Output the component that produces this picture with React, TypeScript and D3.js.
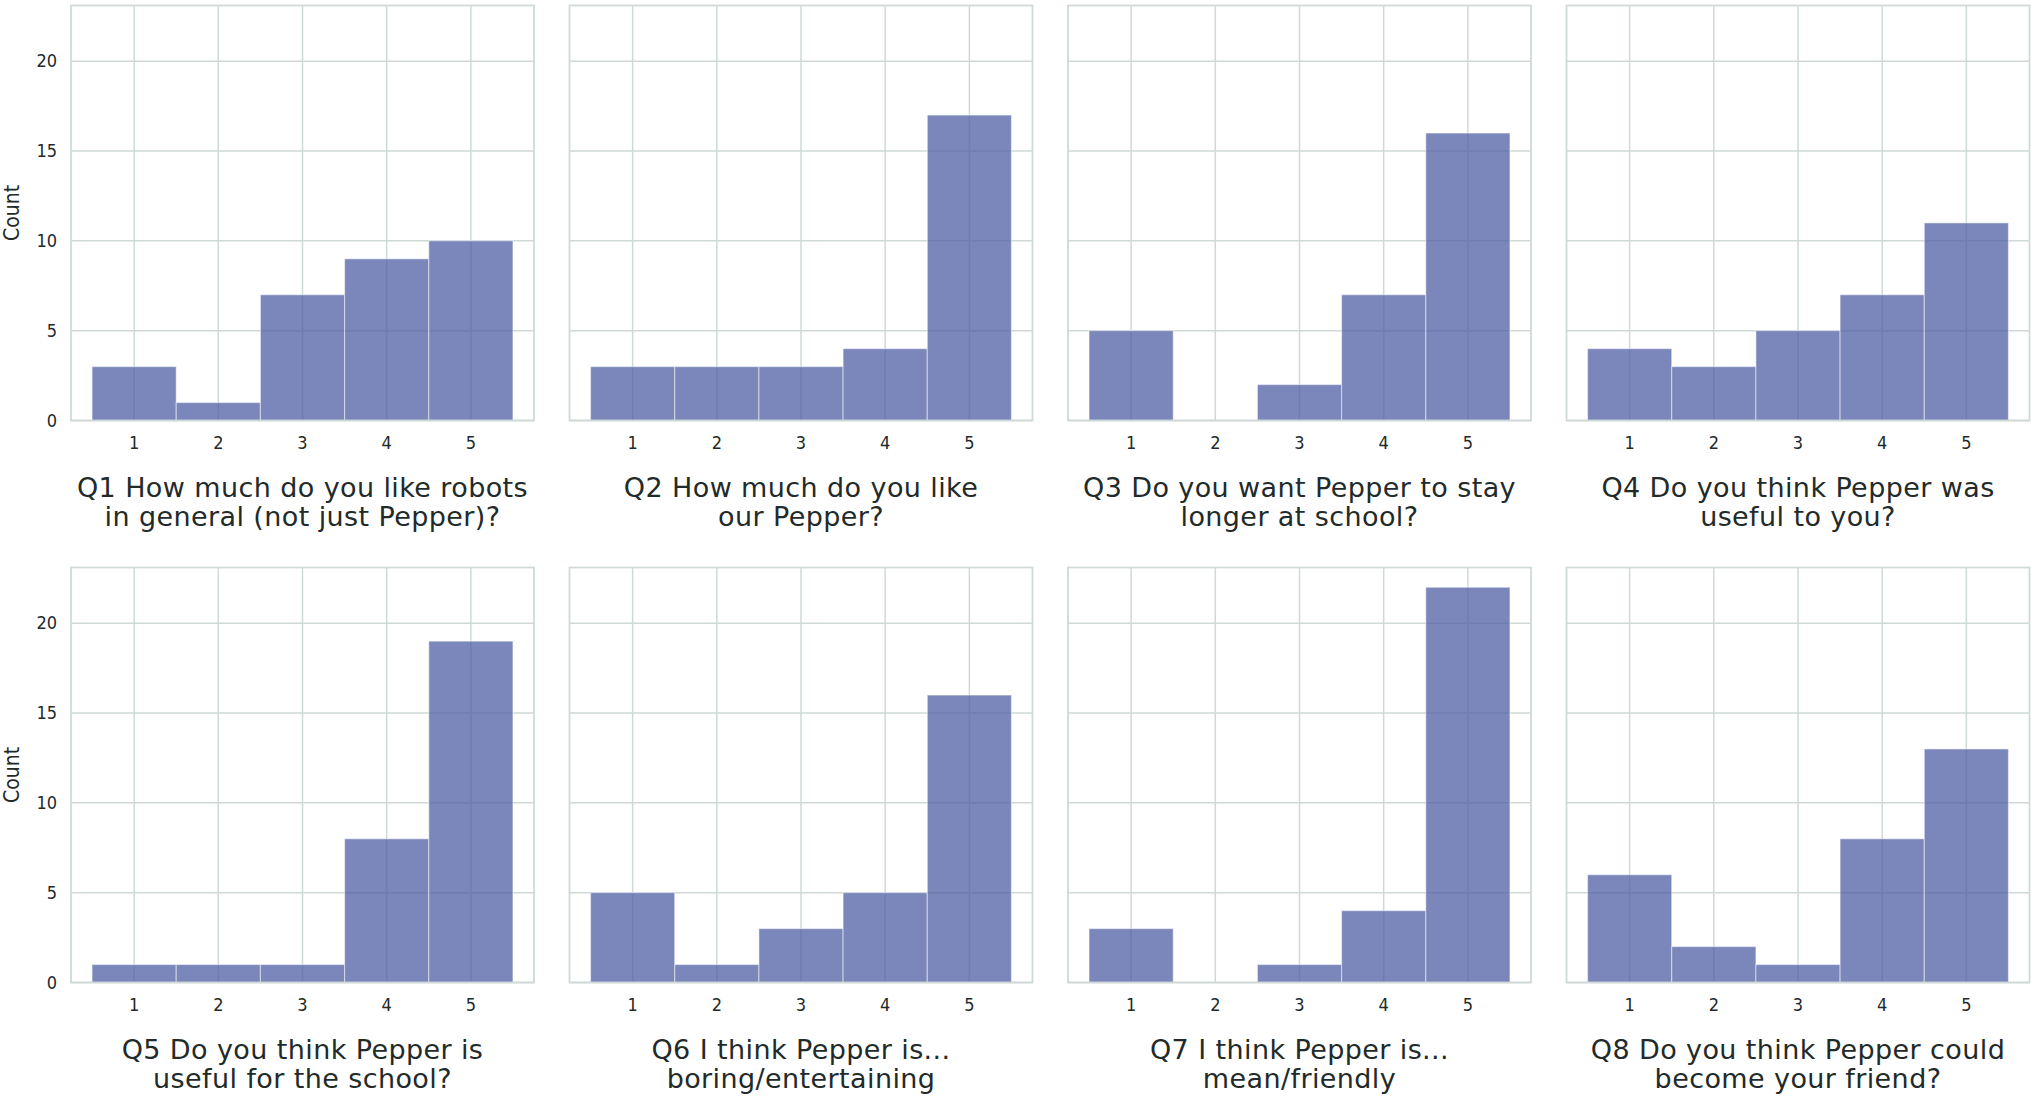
import React, { useEffect, useRef } from "react";
import * as d3 from "d3";

const ratings = [1, 2, 3, 4, 5];
const yTicks = [0, 5, 10, 15, 20];

const q1 = [3, 1, 7, 9, 10];
const q2 = [3, 3, 3, 4, 17];
const q3 = [5, 0, 2, 7, 16];
const q4 = [4, 3, 5, 7, 11];
const q5 = [1, 1, 1, 8, 19];
const q6 = [5, 1, 3, 5, 16];
const q7 = [3, 0, 1, 4, 22];
const q8 = [6, 2, 1, 8, 13];

const titles = [
  ["Q1 How much do you like robots", "in general (not just Pepper)?"],
  ["Q2 How much do you like", "our Pepper?"],
  ["Q3 Do you want Pepper to stay", "longer at school?"],
  ["Q4 Do you think Pepper was", "useful to you?"],
  ["Q5 Do you think Pepper is", "useful for the school?"],
  ["Q6 I think Pepper is...", "boring/entertaining"],
  ["Q7 I think Pepper is...", "mean/friendly"],
  ["Q8 Do you think Pepper could", "become your friend?"],
];

const counts = [q1, q2, q3, q4, q5, q6, q7, q8];

const WIDTH = 2031;
const HEIGHT = 1099;
const PANEL_W = 463;
const PANEL_H = 415;
const colLeft = [71, 569.5, 1068, 1566.5];
const rowTop = [5.5, 567.5];

const GRID = "#cfdad8";
const TEXT = "#222a2a";
const TICK_FONT = "'DejaVu Sans Condensed', 'DejaVu Sans', sans-serif";

export default function App() {
  const ref = useRef<SVGSVGElement>(null);

  useEffect(() => {
    const svg = d3.select(ref.current);
    svg.selectAll("*").remove();

    const x = d3.scaleLinear().domain([0.25, 5.75]).range([0, PANEL_W]);
    const y = d3.scaleLinear().domain([0, 23.1]).range([PANEL_H, 0]);

    counts.forEach((vals, i) => {
      const col = i % 4;
      const row = Math.floor(i / 4);
      const g = svg.append("g")
        .attr("transform", `translate(${colLeft[col]},${rowTop[row]})`);

      // grid
      g.selectAll("line.gx").data(ratings).enter().append("line")
        .attr("x1", (d) => x(d)).attr("x2", (d) => x(d))
        .attr("y1", 0).attr("y2", PANEL_H)
        .attr("stroke", GRID).attr("stroke-width", 1.5);
      g.selectAll("line.gy").data(yTicks).enter().append("line")
        .attr("x1", 0).attr("x2", PANEL_W)
        .attr("y1", (d) => y(d)).attr("y2", (d) => y(d))
        .attr("stroke", GRID).attr("stroke-width", 1.5);

      // bars
      g.selectAll("rect.bar").data(vals).enter().append("rect")
        .attr("x", (d, k) => x(ratings[k] - 0.5))
        .attr("width", x(1.5) - x(0.5))
        .attr("y", (d) => y(d))
        .attr("height", (d) => y(0) - y(d))
        .attr("fill", "#4f5ea4")
        .attr("fill-opacity", 0.75)
        .attr("stroke", "rgba(255,255,255,0.45)")
        .attr("stroke-width", (d) => (d > 0 ? 1.2 : 0));

      // frame
      g.append("rect")
        .attr("x", 0).attr("y", 0)
        .attr("width", PANEL_W).attr("height", PANEL_H)
        .attr("fill", "none").attr("stroke", GRID).attr("stroke-width", 1.8);

      // x tick labels
      g.selectAll("text.xt").data(ratings).enter().append("text")
        .attr("x", (d) => x(d))
        .attr("y", PANEL_H + 22)
        .attr("dy", "0.35em")
        .attr("text-anchor", "middle")
        .attr("font-family", TICK_FONT)
        .attr("font-size", "18px")
        .attr("fill", TEXT)
        .text((d) => d);

      // y tick labels on first column
      if (col === 0) {
        g.selectAll("text.yt").data(yTicks).enter().append("text")
          .attr("x", -14)
          .attr("y", (d) => y(d))
          .attr("dy", "0.35em")
          .attr("text-anchor", "end")
          .attr("font-family", TICK_FONT)
          .attr("font-size", "18px")
          .attr("fill", TEXT)
          .text((d) => d);
        g.append("text")
          .attr("transform", `translate(${-59},${PANEL_H / 2}) rotate(-90)`)
          .attr("dy", "0.35em")
          .attr("text-anchor", "middle")
          .attr("font-family", TICK_FONT)
          .attr("font-size", "21px")
          .attr("fill", TEXT)
          .text("Count");
      }

      // title, two lines
      g.selectAll("text.title").data(titles[i]).enter().append("text")
        .attr("x", PANEL_W / 2)
        .attr("y", (d, k) => PANEL_H + 76.5 + k * 29)
        .attr("text-anchor", "middle")
        .attr("font-family", "'DejaVu Sans', sans-serif")
        .attr("font-size", "27px")
        .attr("letter-spacing", "0.4px")
        .attr("fill", TEXT)
        .text((d) => d);
    });
  }, []);

  return (
    <svg ref={ref} width={WIDTH} height={HEIGHT}
      style={{ position: "absolute", left: 0, top: 0, background: "#fff" }}>
    </svg>
  );
}
